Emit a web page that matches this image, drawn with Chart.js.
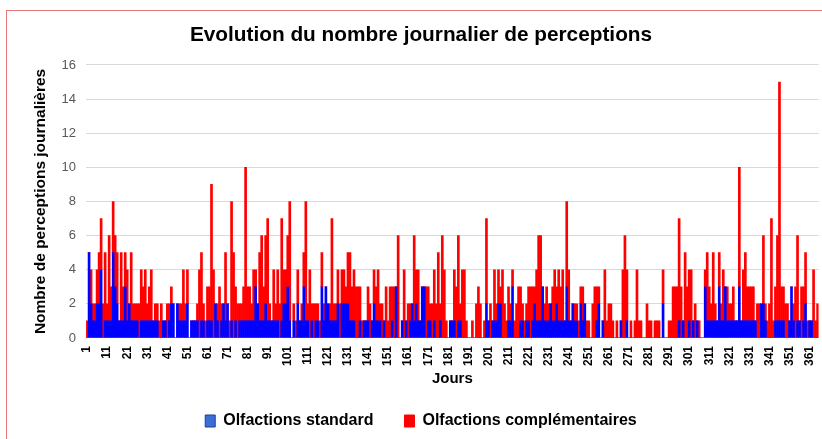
<!DOCTYPE html>
<html>
<head>
<meta charset="utf-8">
<script src="https://cdn.jsdelivr.net/npm/chart.js@4.4.1/dist/chart.umd.min.js"></script>
<style>
  html, body { margin: 0; padding: 0; background: #fff; overflow: hidden; }
  #wrap { position: relative; width: 822px; height: 439px; overflow: hidden; }
  #frame { position: absolute; left: 6px; top: 10px; right: 0; bottom: 0; border-left: 1px solid #e8797a; border-top: 1px solid #e8797a; pointer-events: none; }
  canvas { position: absolute; left: 0; top: 0; }
</style>
</head>
<body>
<div id="wrap">
  <canvas id="c" width="832" height="439"></canvas>
  <div id="frame"></div>
</div>
<script>
// Categories: days 1..365
const days = Array.from({ length: 365 }, (_, i) => String(i + 1));

// Olfactions standard (blue), per day
const standard = [
  0,5,2,1,1,2,2,4,0,1,
  1,1,1,5,3,2,1,1,1,3,
  1,2,1,1,1,1,0,1,1,1,
  1,1,1,1,1,1,0,0,1,1,
  0,1,2,2,0,2,1,1,1,1,
  2,0,1,1,1,1,0,1,1,0,
  1,1,1,0,2,1,0,1,2,1,
  2,0,1,0,1,0,1,1,1,1,
  1,1,1,1,3,2,1,1,1,2,
  1,1,1,1,1,1,0,1,2,2,
  3,1,0,1,0,2,1,1,3,1,
  1,0,1,0,1,1,0,3,1,3,
  2,1,1,1,1,2,0,2,2,2,
  2,1,1,1,0,0,1,0,1,1,
  1,0,1,2,1,1,1,0,1,0,
  0,0,1,0,3,0,0,1,0,1,
  0,1,2,1,2,1,1,3,3,0,
  1,1,0,1,0,0,1,0,0,0,
  0,1,1,1,0,1,1,0,0,0,
  0,0,0,0,0,0,0,0,0,2,
  1,0,1,1,1,2,2,0,0,0,
  1,1,3,0,0,0,1,1,0,1,
  1,0,1,2,1,1,1,3,1,1,
  1,2,1,1,2,1,1,1,1,3,
  1,1,2,1,1,0,2,1,2,0,
  0,0,0,0,1,2,0,1,0,0,
  0,0,0,0,0,0,1,0,0,1,
  0,0,0,0,0,0,0,0,0,0,
  0,0,0,0,0,0,0,2,0,0,
  0,0,0,0,0,1,0,1,0,0,
  1,0,1,0,1,0,0,0,3,1,
  1,1,1,1,1,3,1,1,3,1,
  1,1,1,1,1,3,1,1,1,1,
  1,1,1,1,0,0,2,2,1,0,
  0,0,0,1,1,1,1,1,0,0,
  1,3,1,0,1,1,0,1,2,0,
  1,1,0,0,0
];

// Olfactions complémentaires (red), per day
const complementaires = [
  1,0,2,1,1,2,3,3,2,4,
  1,5,2,3,3,3,0,4,2,2,
  3,0,4,1,1,1,2,3,2,3,
  1,2,3,0,1,1,1,2,0,0,
  2,1,1,0,0,0,1,1,3,1,
  2,0,0,0,0,1,4,4,1,1,
  2,2,8,4,0,1,3,1,0,4,
  0,1,7,5,2,2,1,1,2,9,
  2,2,1,3,1,0,4,5,2,4,
  6,1,0,3,1,3,2,6,2,2,
  3,7,0,1,1,2,0,1,2,7,
  1,4,1,2,1,1,1,2,1,0,
  0,1,6,1,1,2,2,2,2,1,
  3,4,2,3,3,3,2,1,0,0,
  2,2,0,2,2,3,1,2,0,3,
  1,3,2,3,0,6,0,0,4,0,
  2,1,0,5,2,3,0,0,0,3,
  2,1,2,3,2,5,1,6,4,1,
  0,0,0,3,3,5,1,4,4,1,
  0,0,1,0,2,3,2,0,1,5,
  0,2,0,3,1,2,1,4,2,1,
  2,1,1,1,2,3,2,1,1,1,
  2,3,2,1,3,5,5,0,1,2,
  1,0,2,3,1,3,2,3,0,5,
  3,0,0,1,1,1,1,2,0,1,
  1,0,2,3,2,1,0,0,4,1,
  2,2,1,0,1,0,0,4,6,3,
  0,1,0,1,4,1,1,0,0,2,
  1,1,0,1,1,1,0,2,0,0,
  1,1,3,3,3,6,3,0,5,3,
  3,4,0,2,0,1,0,0,1,4,
  2,1,4,1,0,2,1,3,0,2,
  1,1,2,0,0,7,0,3,4,2,
  2,2,2,0,2,2,0,4,1,1,
  2,7,1,2,5,14,2,2,2,2,
  0,0,1,3,5,0,3,2,3,1,
  0,0,4,1,2
];

const seriesNames = ['Olfactions standard', 'Olfactions complémentaires'];
const FONT = "'Liberation Sans', Arial, sans-serif";

new Chart(document.getElementById('c'), {
  type: 'bar',
  data: {
    labels: days,
    datasets: [
      { label: seriesNames[0], data: standard, backgroundColor: '#0000ff', borderWidth: 0, barPercentage: 1, categoryPercentage: 1 },
      { label: seriesNames[1], data: complementaires, backgroundColor: '#ff0000', borderWidth: 0, barPercentage: 1, categoryPercentage: 1 }
    ]
  },
  options: {
    responsive: false,
    animation: false,
    devicePixelRatio: 1,
    layout: { autoPadding: false, padding: { left: 10, right: 0, top: 0, bottom: 0 } },
    plugins: {
      tooltip: { enabled: false },
      title: {
        display: true,
        text: 'Evolution du nombre journalier de perceptions',
        color: '#000',
        font: { family: FONT, size: 20.8, weight: 'bold' },
        padding: { top: 23, bottom: 17 }
      },
      legend: {
        position: 'bottom',
        labels: {
          color: '#000',
          font: { family: FONT, size: 16, weight: 'bold' },
          boxWidth: 10,
          boxHeight: 12,
          padding: 7,
          generateLabels: (chart) => [
            { text: seriesNames[0] + '\u2003\u2002', fillStyle: '#3a6fd8', strokeStyle: '#1f3f9a', lineWidth: 1, datasetIndex: 0 },
            { text: seriesNames[1], fillStyle: '#ff0000', strokeStyle: '#ff0000', lineWidth: 1, datasetIndex: 1 }
          ]
        }
      }
    },
    scales: {
      x: {
        stacked: true,
        grid: { display: false },
        border: { color: '#d9d9d9' },
        ticks: {
          autoSkip: false,
          maxRotation: 90,
          minRotation: 90,
          color: '#000',
          font: { family: FONT, size: 12, weight: 'bold' },
          padding: 0,
          callback: (v, i) => (i % 10 === 0 ? days[i] : '')
        },
        title: {
          display: true,
          text: 'Jours',
          color: '#000',
          font: { family: FONT, size: 15, weight: 'bold' },
          padding: { top: 4, bottom: 18 }
        }
      },
      y: {
        stacked: true,
        min: 0,
        max: 16,
        grid: { color: '#d9d9d9', drawTicks: false },
        border: { display: false },
        ticks: {
          stepSize: 2,
          color: '#595959',
          font: { family: FONT, size: 13 },
          padding: 10
        },
        title: {
          display: true,
          text: 'Nombre de perceptions journalières',
          color: '#000',
          font: { family: FONT, size: 15.5, weight: 'bold' },
          padding: { top: 21, bottom: 2 }
        }
      }
    }
  }
});
</script>
</body>
</html>
